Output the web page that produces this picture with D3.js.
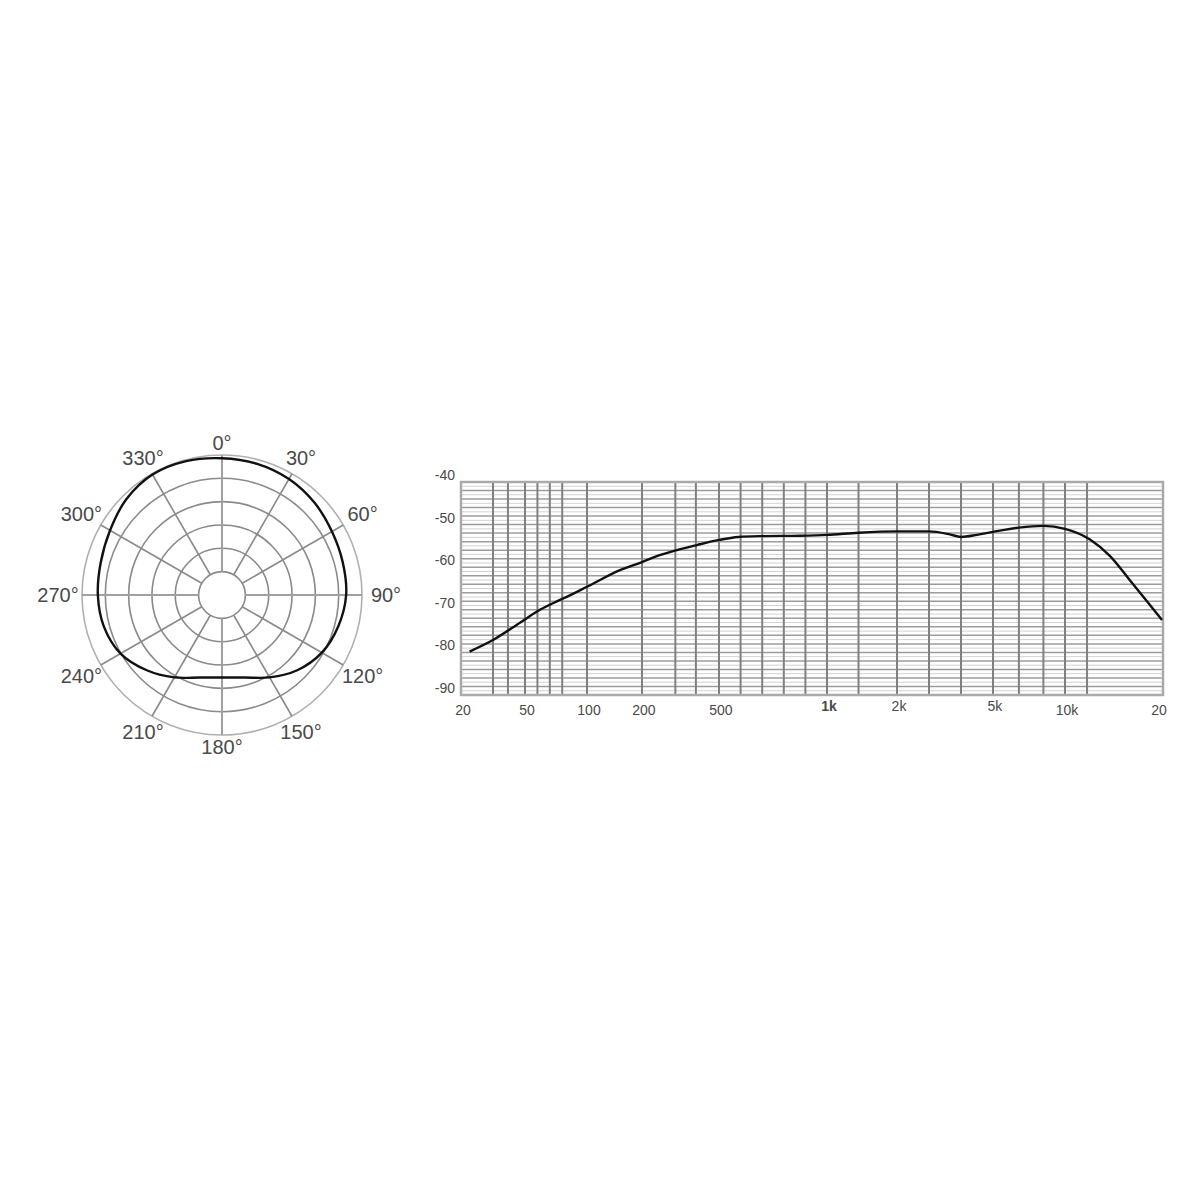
<!DOCTYPE html>
<html>
<head>
<meta charset="utf-8">
<script src="https://cdn.jsdelivr.net/npm/d3@7"></script>
<style>
  html, body { margin: 0; padding: 0; background: #fff; }
  svg { display: block; }
  text { font-family: "Liberation Sans", Arial, sans-serif; }
</style>
</head>
<body>
<svg id="chart" width="1200" height="1200"></svg>
<script>
// ---------- DATA ----------
// Polar pattern (angle in degrees, relative level in dB)
const polarAngles = [0, 15, 30, 45, 60, 75, 90, 105, 120, 135, 150, 165, 180, 195, 210, 225, 240, 255, 270, 285, 300, 315, 330, 345];
const polarLevels = [-0.7, -0.9, -1.3, -2.0, -2.8, -3.2, -3.4, -4.2, -5.3, -7.2, -9.62, -11.71, -12.33, -11.71, -9.62, -7.2, -4.9, -3.8, -3.4, -3.1, -2.3, -1.0, -0.2, -0.3];
const polarRings = [-25, -20, -15, -10, -5, 0];
const polarSpokes = [0, 30, 60, 90, 120, 150, 180, 210, 240, 270, 300, 330];
const polarLabels = ["0°", "30°", "60°", "90°", "120°", "150°", "180°", "210°", "240°", "270°", "300°", "330°"];

// Frequency response
const freqs = [24, 35, 48, 62, 73, 87, 100, 160, 200, 250, 336, 414, 500, 590, 700, 875, 1000, 1450, 2000, 3000, 3650, 4000, 4500, 5000, 6800, 8500, 10000, 12550, 14600, 16600, 18400, 19900];
const levels = [-79.8, -77.1, -72.9, -70.0, -68.4, -66.5, -64.6, -60.7, -58.8, -57.6, -56.0, -54.8, -53.6, -52.9, -52.7, -52.6, -52.4, -51.9, -51.6, -51.6, -52.3, -52.9, -52.4, -51.7, -50.7, -50.3, -51.0, -53.5, -57.4, -63.0, -68.1, -72.4];
const xTickValues = [20, 50, 100, 200, 500, 1000, 2000, 5000, 10000, 20000];
const xTickLabels = ["20", "50", "100", "200", "500", "1k", "2k", "5k", "10k", "20"];
const xMinorGrid = [35, 42, 60, 70, 80, 330, 410, 600, 700, 800, 900, 1450, 3000, 4000, 6800, 8500, 12250];
const yTickValues = [-40, -50, -60, -70, -80, -90];

// ---------- LAYOUT ----------
const svg = d3.select("#chart");

// Polar
const pc = { cx: 222, cy: 595, r0: 23.4, r1: 140 };
const rScale = d3.scaleLinear().domain([-25, 0]).range([pc.r0, pc.r1]);
const gP = svg.append("g").attr("transform", `translate(${pc.cx},${pc.cy})`);

gP.selectAll("circle.ring").data(polarRings).enter().append("circle")
  .attr("class", "ring")
  .attr("r", d => rScale(d))
  .attr("fill", "none")
  .attr("stroke", d => d === 0 ? "#b0b0b0" : "#8a8a8a")
  .attr("stroke-width", 1.6);

const rad = a => a * Math.PI / 180;
gP.selectAll("line.spoke").data(polarSpokes).enter().append("line")
  .attr("class", "spoke")
  .attr("x1", a => Math.sin(rad(a)) * rScale(-25))
  .attr("y1", a => -Math.cos(rad(a)) * rScale(-25))
  .attr("x2", a => Math.sin(rad(a)) * rScale(0))
  .attr("y2", a => -Math.cos(rad(a)) * rScale(0))
  .attr("stroke", a => a % 90 === 0 ? "#a0a0a0" : "#8a8a8a")
  .attr("stroke-width", a => a % 90 === 0 ? 2 : 1.6);

const polarData = polarAngles.map((a, i) => ({ a: rad(a), v: polarLevels[i] }));
const radial = d3.lineRadial()
  .angle(d => d.a)
  .radius(d => rScale(d.v))
  .curve(d3.curveCatmullRomClosed.alpha(0.5));
gP.append("path")
  .datum(polarData)
  .attr("d", radial)
  .attr("fill", "none")
  .attr("stroke", "#111")
  .attr("stroke-width", 2.4);

gP.selectAll("text.plab").data(polarSpokes).enter().append("text")
  .attr("class", "plab")
  .attr("x", a => Math.sin(rad(a)) * (152 + 12 * Math.abs(Math.sin(rad(a)))))
  .attr("y", a => -Math.cos(rad(a)) * (152 + 12 * Math.abs(Math.sin(rad(a)))))
  .attr("text-anchor", "middle")
  .attr("dominant-baseline", "central")
  .attr("font-size", 20)
  .attr("fill", "#4a4a4a")
  .text((a, i) => polarLabels[i]);

// Frequency response
const fr = { left: 461, right: 1163, top: 482, bottom: 695 };
const fw = fr.right - fr.left;
const xRangeFrac = [0, 0.0912, 0.1795, 0.2578, 0.3675, 0.5214, 0.6211, 0.7578, 0.8604, 1];
const x = d3.scaleLinear().domain(xTickValues).range(xRangeFrac.map(f => fr.left + f * fw));
const y = d3.scaleLinear().domain([-40, -90]).range([fr.top, fr.bottom]);

const gF = svg.append("g");
// horizontal grid: 1 dB light, 2 dB darker
const hVals = d3.range(-90, -39, 1);
gF.selectAll("line.h").data(hVals).enter().append("line")
  .attr("x1", fr.left).attr("x2", fr.right)
  .attr("y1", d => y(d)).attr("y2", d => y(d))
  .attr("stroke", d => (d % 2 === 0) ? "#9c9c9c" : "#d2d2d2")
  .attr("stroke-width", d => (d % 2 === 0) ? 1.5 : 1);

// vertical grid
const vVals = xMinorGrid.concat(xTickValues.slice(1, -1));
gF.selectAll("line.v").data(vVals).enter().append("line")
  .attr("x1", d => x(d)).attr("x2", d => x(d))
  .attr("y1", fr.top).attr("y2", fr.bottom)
  .attr("stroke", "#808080")
  .attr("stroke-width", 2);

gF.append("rect")
  .attr("x", fr.left).attr("y", fr.top)
  .attr("width", fw).attr("height", fr.bottom - fr.top)
  .attr("fill", "none").attr("stroke", "#aaa").attr("stroke-width", 2.5);

// y labels
gF.selectAll("text.yl").data(yTickValues).enter().append("text")
  .attr("x", fr.left - 6)
  .attr("y", d => y(d) - 2)
  .attr("text-anchor", "end")
  .attr("font-size", 14)
  .attr("fill", "#4a4a4a")
  .text(d => String(d));

// x labels
gF.selectAll("text.xl").data(xTickValues).enter().append("text")
  .attr("x", (d, i) => x(d) + (i === xTickValues.length - 1 ? -4 : 2))
  .attr("y", (d, i) => /k$/.test(xTickLabels[i]) && xTickLabels[i] !== "10k" ? 711 : 715)
  .attr("text-anchor", "middle")
  .attr("font-size", 14)
  .attr("font-weight", (d, i) => xTickLabels[i] === "1k" ? "bold" : "normal")
  .attr("fill", "#4a4a4a")
  .text((d, i) => xTickLabels[i]);

// curve
const line = d3.line()
  .x(d => x(d[0]))
  .y(d => y(d[1]))
  .curve(d3.curveMonotoneX);
gF.append("path")
  .datum(freqs.map((f, i) => [f, levels[i]]))
  .attr("d", line)
  .attr("fill", "none")
  .attr("stroke", "#111")
  .attr("stroke-width", 2.4);
</script>
</body>
</html>
